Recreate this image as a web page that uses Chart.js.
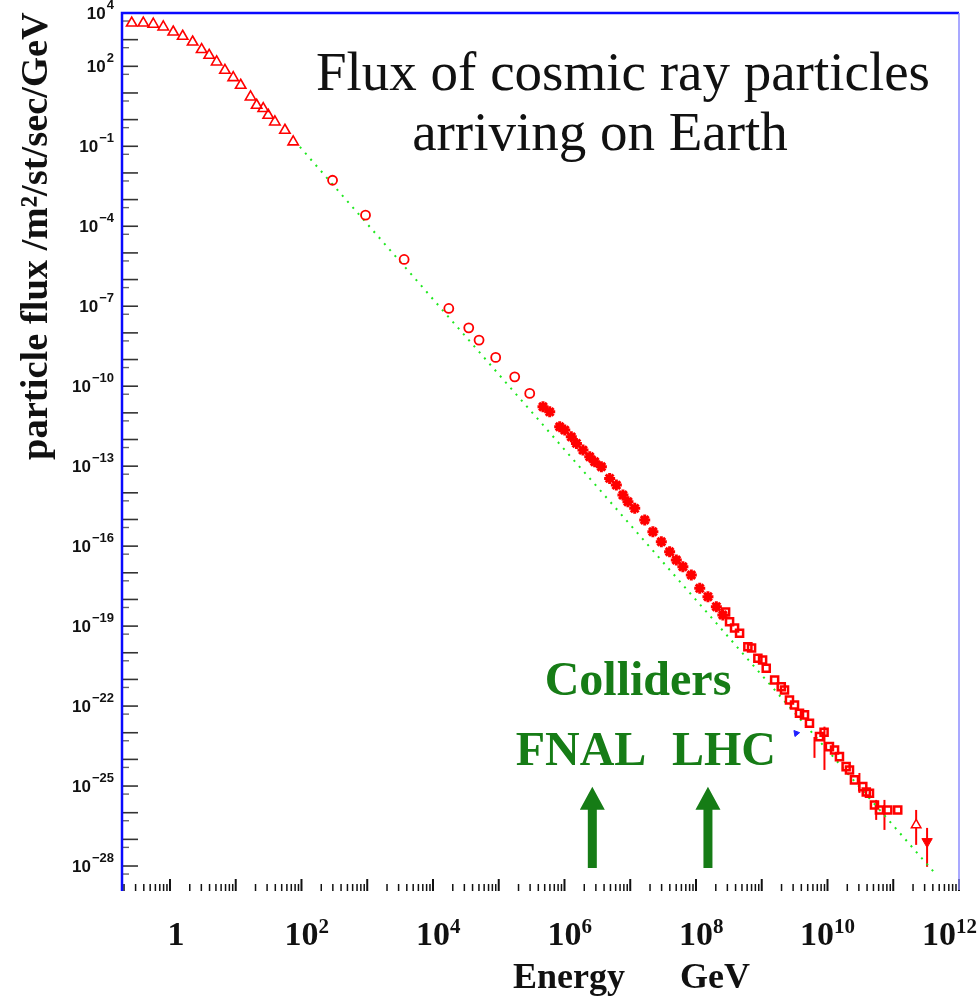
<!DOCTYPE html>
<html>
<head>
<meta charset="utf-8">
<script src="https://cdn.jsdelivr.net/npm/chart.js@4.4.0/dist/chart.umd.min.js"></script>
<style>
html, body { margin: 0; padding: 0; background: #fff; }
canvas { display: block; }
</style>
</head>
<body>
<canvas id="myChart" width="979" height="997"></canvas>
<script>
// values (energy in GeV, flux in /m2/st/sec/GeV)
const lowEnergyE = [0.262, 0.393, 0.557, 0.791, 1.12, 1.56, 2.21, 3.03, 3.95, 5.13, 6.85, 9.16, 11.9, 16.8, 20.8, 26.2, 31.2, 39.4, 56.0, 74.8];
const lowEnergyFlux = [4.2e3, 4.2e3, 3.8e3, 3.0e3, 1.94e3, 1.34e3, 818, 425, 259, 146, 71, 37.8, 19.5, 7.08, 3.46, 2.60, 1.46, 0.817, 0.400, 0.146];

const directE = [297, 942, 3.64e3, 1.74e4, 3.50e4, 5.02e4, 8.99e4, 1.75e5, 2.96e5];
const directFlux = [5.33e-3, 2.60e-4, 5.68e-6, 8.24e-8, 1.55e-8, 5.35e-9, 1.20e-9, 2.25e-10, 5.36e-11];

const showerE = [4.71e5, 5.96e5, 8.45e5, 1.01e6, 1.27e6, 1.52e6, 1.91e6, 2.42e6, 2.88e6, 3.64e6, 4.86e6, 6.15e6, 7.74e6,
  9.23e6, 1.17e7, 1.66e7, 2.21e7, 2.97e7, 3.97e7, 5.02e7, 6.32e7, 8.49e7, 1.14e8, 1.52e8, 2.04e8, 2.56e8];
const showerFlux = [1.69e-11, 1.09e-11, 3.00e-12, 2.25e-12, 1.26e-12, 7.16e-13, 4.01e-13, 2.25e-13, 1.46e-13, 9.48e-14, 3.48e-14, 1.95e-14, 8.24e-15,
  4.62e-15, 2.61e-15, 9.53e-16, 3.47e-16, 1.46e-16, 6.17e-17, 3.01e-17, 1.69e-17, 8.24e-18, 2.62e-18, 1.27e-18, 5.35e-19, 2.61e-19];

const uhecrE = [2.82e8, 3.24e8, 3.86e8, 4.60e8, 6.15e8, 7.0e8, 8.73e8, 1.03e9, 1.17e9, 1.57e9, 1.98e9, 2.22e9, 2.64e9, 3.15e9, 3.75e9, 4.47e9, 5.32e9, 7.55e9, 8.87e9,
  1.07e10, 1.28e10, 1.52e10, 1.92e10, 2.16e10, 2.57e10, 3.44e10, 3.89e10, 4.35e10, 5.18e10, 6.17e10, 8.26e10, 1.17e11];
const uhecrFlux = [3.39e-19, 1.46e-19, 8.49e-20, 5.38e-20, 1.69e-20, 1.51e-20, 6.21e-21, 5.37e-21, 2.62e-21, 9.53e-22, 5.35e-22, 4.03e-22, 1.70e-22, 1.10e-22, 5.38e-23, 4.68e-23, 2.27e-23, 7.13e-24, 1.05e-23,
  3.01e-24, 2.26e-24, 1.27e-24, 5.35e-25, 4.03e-25, 1.70e-25, 9.50e-26, 6.0e-26, 5.38e-26, 1.96e-26, 1.27e-26, 1.27e-26, 1.27e-26];

const errBarE = [6.34e9, 8.99e9, 3.06e10, 5.50e10, 7.35e10, 2.23e11, 3.27e11];
const errBarHigh = [6.95e-24, 1.69e-23, 3.10e-25, 3.02e-26, 3.02e-26, 1.27e-26, 2.69e-27];
const errBarLow = [1.14e-24, 4.02e-25, 5.52e-26, 5.37e-27, 2.26e-27, 6.21e-28, 9.33e-29];

const openTriE = [2.23e11];
const openTriFlux = [3.49e-27];
const lastE = [3.27e11];
const lastFlux = [8.24e-28];
const blueE = [3.34e9];
const blueFlux = [9.57e-24];

const fitE = [94.6, 4.27e11];
const fitFlux = [9.46e-2, 5.5e-29];

const xTickExp = [0, 2, 4, 6, 8, 10, 12];
const yTickExp = [4, 2, -1, -4, -7, -10, -13, -16, -19, -22, -25, -28];

const colliderE = [2.65e6, 1.52e8];  // FNAL, LHC
const arrowTipFlux = 9.5e-26;
const arrowFootFlux = 8.5e-29;

const RED = '#ff0000';
const GREEN = '#167c16';

function pts(xs, ys) {
    return xs.map((v, i) => ({ x: v, y: ys[i] }));
}

// axes, ticks, error bars, annotations
const decor = {
    id: 'decor',
    beforeDatasetsDraw(chart) {
        const { ctx, chartArea: a, scales: { x, y } } = chart;
        ctx.save();

        // y ticks (inside, from left axis)
        for (let e = -29; e <= 4; e++) {
            const py = y.getPixelForValue(Math.pow(10, e));
            if (py >= a.top - 1 && py <= a.bottom) {
                ctx.strokeStyle = '#333';
                ctx.lineWidth = 1.6;
                ctx.beginPath(); ctx.moveTo(a.left, py); ctx.lineTo(a.left + 16, py); ctx.stroke();
            }
            const pm = y.getPixelForValue(5 * Math.pow(10, e));
            if (pm >= a.top && pm <= a.bottom) {
                ctx.strokeStyle = '#666';
                ctx.lineWidth = 1.4;
                ctx.beginPath(); ctx.moveTo(a.left, pm); ctx.lineTo(a.left + 7, pm); ctx.stroke();
            }
        }

        // x ticks (upward from bottom)
        for (let e = -1; e <= 12; e++) {
            for (let m = 1; m <= 9; m++) {
                const v = m * Math.pow(10, e);
                const px = x.getPixelForValue(v);
                if (px < a.left + 1 || px > a.right + 0.5) continue;
                const h = m === 1 ? 12 : 7;
                ctx.strokeStyle = '#111';
                ctx.lineWidth = m === 1 ? 2 : 1.5;
                ctx.beginPath(); ctx.moveTo(px, a.bottom + 1); ctx.lineTo(px, a.bottom + 1 - h); ctx.stroke();
            }
        }

        // error bars
        ctx.strokeStyle = RED;
        ctx.lineWidth = 2;
        errBarE.forEach((v, i) => {
            const px = x.getPixelForValue(v);
            ctx.beginPath();
            ctx.moveTo(px, y.getPixelForValue(errBarHigh[i]));
            ctx.lineTo(px, y.getPixelForValue(errBarLow[i]));
            ctx.stroke();
        });
        ctx.restore();
    },
    afterDraw(chart) {
        const { ctx, chartArea: a, scales: { x, y } } = chart;
        ctx.save();

        // frame: blue left + top, light blue right, no bottom line
        ctx.strokeStyle = '#0a0aff';
        ctx.lineWidth = 2.5;
        ctx.beginPath();
        ctx.moveTo(a.left, a.bottom + 1);
        ctx.lineTo(a.left, a.top);
        ctx.lineTo(a.right, a.top);
        ctx.stroke();
        ctx.strokeStyle = '#8c8cff';
        ctx.lineWidth = 1.5;
        ctx.beginPath(); ctx.moveTo(a.right, a.top); ctx.lineTo(a.right, a.bottom); ctx.stroke();

        // y tick labels
        ctx.fillStyle = '#111';
        ctx.textBaseline = 'middle';
        ctx.textAlign = 'right';
        yTickExp.forEach(e => {
            const py = y.getPixelForValue(Math.pow(10, e));
            const sup = e < 0 ? '\u2212' + (-e) : String(e);
            ctx.font = 'bold 13px "Liberation Sans"';
            const w = ctx.measureText(sup).width;
            ctx.fillText(sup, 114, py - 8);
            ctx.font = 'bold 17px "Liberation Sans"';
            ctx.fillText('10', 114 - w - 1, py + 1);
        });

        // x tick labels
        ctx.textBaseline = 'alphabetic';
        ctx.textAlign = 'left';
        xTickExp.forEach(e => {
            const px = x.getPixelForValue(Math.pow(10, e));
            ctx.font = 'bold 34px "Liberation Serif"';
            if (e === 0) {
                const w1 = ctx.measureText('1').width;
                ctx.fillText('1', px - w1 / 2 + 6, 945);
                return;
            }
            const wb = ctx.measureText('10').width;
            ctx.font = 'bold 21px "Liberation Serif"';
            const ws = ctx.measureText(String(e)).width;
            let left = e >= 10 ? px - (wb + ws) / 2 : px - wb / 2;
            if (left + wb + ws > chart.width - 2) left = chart.width - 2 - wb - ws;
            ctx.font = 'bold 34px "Liberation Serif"';
            ctx.fillText('10', left, 945);
            ctx.font = 'bold 21px "Liberation Serif"';
            ctx.fillText(String(e), left + wb, 933);
        });

        // axis titles
        ctx.textAlign = 'center';
        ctx.font = 'bold 36px "Liberation Serif"';
        ctx.fillText('Energy', 569, 988);
        ctx.fillText('GeV', 715, 988);

        ctx.save();
        ctx.translate(47, 236);
        ctx.rotate(-Math.PI / 2);
        ctx.font = 'bold 38.5px "Liberation Serif"';
        ctx.fillText('particle flux /m\u00b2/st/sec/GeV', 0, 0);
        ctx.restore();

        // title
        ctx.font = '55px "Liberation Serif"';
        ctx.fillStyle = '#111';
        ctx.fillText('Flux of cosmic ray particles', 623, 90);
        ctx.fillText('arriving on Earth', 600, 150);

        // collider annotation
        ctx.fillStyle = GREEN;
        ctx.font = 'bold 48px "Liberation Serif"';
        ctx.fillText('Colliders', 638, 695);
        ctx.fillText('FNAL', 581, 765);
        ctx.fillText('LHC', 724, 765);

        const tipY = y.getPixelForValue(arrowTipFlux);
        const footY = y.getPixelForValue(arrowFootFlux);
        colliderE.forEach(v => {
            const px = x.getPixelForValue(v);
            ctx.beginPath();
            ctx.moveTo(px, tipY);
            ctx.lineTo(px + 12.5, tipY + 23);
            ctx.lineTo(px + 4.5, tipY + 23);
            ctx.lineTo(px + 4.5, footY);
            ctx.lineTo(px - 4.5, footY);
            ctx.lineTo(px - 4.5, tipY + 23);
            ctx.lineTo(px - 12.5, tipY + 23);
            ctx.closePath();
            ctx.fill();
        });
        ctx.restore();
    }
};

const ctx = document.getElementById('myChart').getContext('2d');

const data = {
    datasets: [
        {
            label: 'fit',
            data: pts(fitE, fitFlux),
            showLine: true,
            borderColor: '#1ee81e',
            borderWidth: 2,
            borderDash: [2, 6],
            pointRadius: 0,
            order: 10
        },
        {
            label: 'low energy',
            data: pts(lowEnergyE, lowEnergyFlux),
            pointStyle: 'triangle',
            pointRadius: 6,
            borderColor: RED,
            backgroundColor: 'rgba(0,0,0,0)',
            borderWidth: 1.6
        },
        {
            label: 'direct',
            data: pts(directE, directFlux),
            pointStyle: 'circle',
            pointRadius: 4.5,
            borderColor: RED,
            backgroundColor: 'rgba(0,0,0,0)',
            borderWidth: 1.8
        },
        {
            label: 'air showers',
            data: pts(showerE, showerFlux),
            pointStyle: 'star',
            pointRadius: 5.5,
            borderColor: RED,
            backgroundColor: RED,
            borderWidth: 3
        },
        {
            label: 'uhecr',
            data: pts(uhecrE, uhecrFlux),
            pointStyle: 'rect',
            pointRadius: 5,
            borderColor: RED,
            backgroundColor: 'rgba(0,0,0,0)',
            borderWidth: 2.5
        },
        {
            label: 'open triangle',
            data: pts(openTriE, openTriFlux),
            pointStyle: 'triangle',
            pointRadius: 5.5,
            borderColor: RED,
            backgroundColor: '#fff',
            borderWidth: 1.5
        },
        {
            label: 'last',
            data: pts(lastE, lastFlux),
            pointStyle: 'triangle',
            rotation: 180,
            pointRadius: 6,
            borderColor: RED,
            backgroundColor: RED,
            borderWidth: 1
        },
        {
            label: 'blue',
            data: pts(blueE, blueFlux),
            pointStyle: 'triangle',
            rotation: 200,
            pointRadius: 3.5,
            borderColor: '#2020ff',
            backgroundColor: '#2020ff',
            borderWidth: 1
        }
    ]
};

const config = {
    type: 'scatter',
    data: data,
    options: {
        responsive: false,
        animation: false,
        layout: {
            padding: { left: 122, top: 13, right: 20, bottom: 107 }
        },
        plugins: {
            legend: { display: false },
            tooltip: { enabled: false }
        },
        scales: {
            x: {
                type: 'logarithmic',
                display: false,
                min: 0.1864,
                max: 1e12
            },
            y: {
                type: 'logarithmic',
                display: false,
                min: 1.26e-29,
                max: 1e4
            }
        }
    },
    plugins: [decor]
};

const myChart = new Chart(ctx, config);
</script>
</body>
</html>
